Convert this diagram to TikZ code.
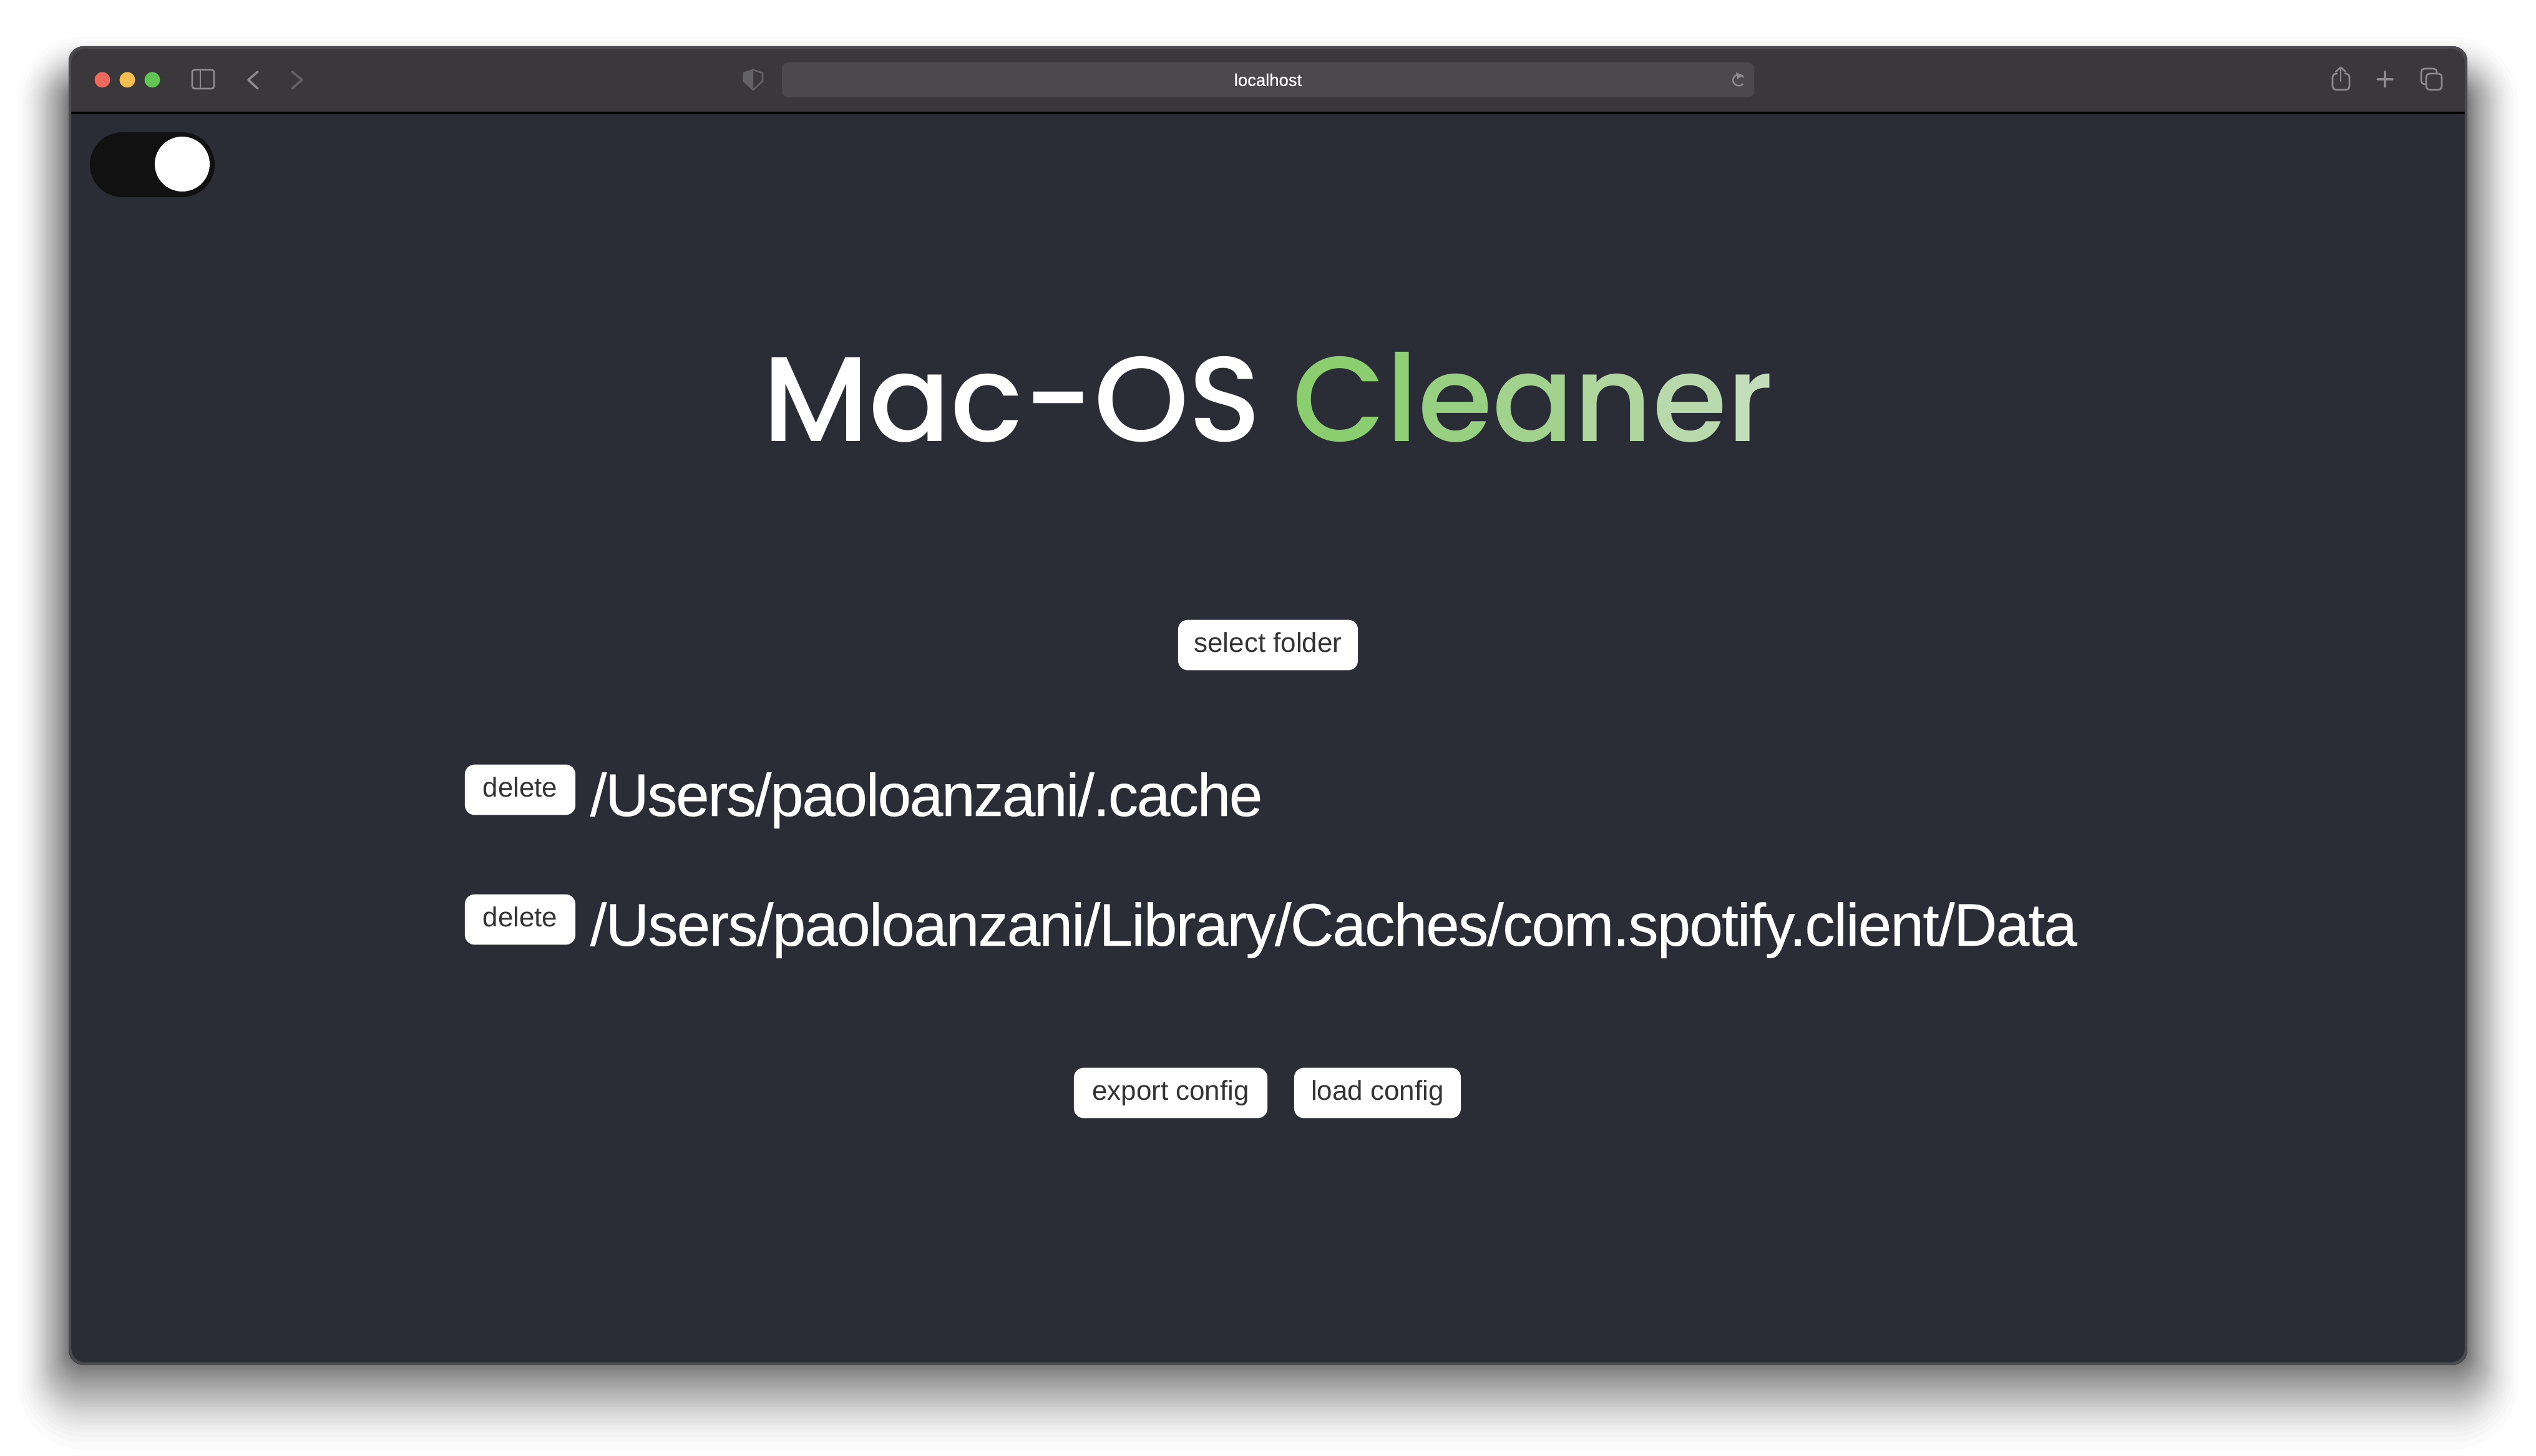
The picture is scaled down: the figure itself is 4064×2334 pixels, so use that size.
\documentclass[tikz,border=0pt]{standalone}
\usepackage{fontspec}
\setmainfont{Liberation Sans}
\newfontfamily\titlefont{Poppins Medium}
\usetikzlibrary{positioning}
\definecolor{pagebg}{HTML}{2B2D36}
\definecolor{barbg}{HTML}{3A383B}
\definecolor{urlbg}{HTML}{4B494C}
\definecolor{rimcol}{HTML}{4C4C50}
\definecolor{iconcol}{HTML}{8C8B8D}
\definecolor{icondim}{HTML}{636265}
\definecolor{btntext}{HTML}{333333}
\definecolor{knobtrack}{HTML}{111111}
\definecolor{clA}{HTML}{8BCE6F}
\definecolor{clB}{HTML}{90CF76}
\definecolor{clC}{HTML}{98D081}
\definecolor{clD}{HTML}{A2D38E}
\definecolor{clE}{HTML}{AED69D}
\definecolor{clF}{HTML}{B8D9AB}
\definecolor{clG}{HTML}{C4DDBB}
\tikzset{
  btn/.style={fill=white,text=btntext,rounded corners=4.5pt,inner sep=0pt,
    minimum height=23pt,text height=6.26pt,text depth=0pt,
    font=\fontsize{12.5}{14}\selectfont},
  pathtext/.style={text=white,inner sep=0pt,anchor=base west,
    font=\addfontfeature{LetterSpace=#1,FakeBold=0.2}\fontsize{27.4}{32}\selectfont},
  icon/.style={draw=iconcol,line width=.75pt,line cap=round,line join=round},
}
\begin{document}
\begin{tikzpicture}[x=0.01cm,y=-0.01cm]
      \useasboundingbox (0,0) rectangle (4064,2334);
      \fill[white] (0,0) rectangle (4064,2334);

      \foreach \i in {1,...,40} {
        \pgfmathsetmacro{\d}{100*(1-(\i/40)^(.4545))}
        \fill[black,opacity=.015,rounded corners=7pt+\d*0.2845pt]
          (110-\d,140-\d) rectangle (3954+\d,2188+1.67*\d);
      }

      \begin{scope}
        \clip[rounded corners=6.8pt] (110,74) rectangle (3954,2188);
        \fill[pagebg] (110,74) rectangle (3954,2188);
        \fill[barbg] (110,74) rectangle (3954,181);
        \fill[black] (110,179) rectangle (3954,183);
      \end{scope}
      \draw[rimcol,line width=1.2pt,rounded corners=6.8pt] (112,76) rectangle (3952,2186);

      \foreach \x/\c in {164/EC6A5E,204/F4BF4F,244/61C554} {
        \definecolor{lightcol}{HTML}{\c}
        \fill[lightcol] (\x,128) circle (12.5);
      }

      \draw[icon,rounded corners=1pt] (308,112) rectangle (343,142);
      \draw[icon] (321,112) -- (321,142);
      \draw[icon,line width=1pt] (413,115) -- (398,128) -- (413,142);
      \draw[draw=icondim,line width=1pt,line cap=round,line join=round] (468,115) -- (484,128) -- (468,142);

      \draw[draw=icondim,line width=.75pt] (1192,117) -- (1207,112) -- (1222,117) -- (1222,130) -- (1207,144) -- (1192,130) -- cycle;
      \fill[icondim] (1192,117) -- (1207,112) -- (1207,144) -- (1192,130) -- cycle;
      \fill[urlbg,rounded corners=3pt] (1253,100) rectangle (2811,156);
      \node[text=white,inner sep=0pt,font=\addfontfeature{FakeBold=0.5}\fontsize{7.8}{9}\selectfont] (urlbar) at (2032,128) {localhost};
      \draw[draw=iconcol,line width=.7pt] (2794,124) arc (-30:-320:9);
      \fill[iconcol] (2782,116) -- (2793,121) -- (2784,127) -- cycle;

      \draw[icon,rounded corners=1.5pt] (3745,118) -- (3738,118) -- (3738,144) -- (3765,144) -- (3765,118) -- (3758,118);
      \draw[icon] (3751,130) -- (3751,108);
      \draw[icon] (3743,115) -- (3751,108) -- (3759,115);
      \draw[icon,line width=.9pt] (3810,127) -- (3834,127);
      \draw[icon,line width=.9pt] (3822,115) -- (3822,139);
      \draw[icon,rounded corners=1.5pt] (3888,135) -- (3880,135) -- (3880,110) -- (3905,110) -- (3905,118);
      \draw[icon,rounded corners=1.5pt] (3888,118) rectangle (3913,144);

      \fill[knobtrack,rounded corners=14.8pt] (144,212) rectangle (344,316);
      \fill[white] (292,263) circle (44);

      \node[inner sep=0pt,anchor=base,text=white,font=\titlefont\fontsize{55}{60}\selectfont] (title) at (2032,708)
        {Mac-OS \textcolor{clA}{C}\textcolor{clB}{l}\textcolor{clC}{e}\textcolor{clD}{a}\textcolor{clE}{n}\textcolor{clF}{e}\textcolor{clG}{r}};

      \node[btn,minimum width=82pt] (selectbtn) at (2032,1034) {select folder};

      \node[btn,minimum width=50.4pt] (deleteA) at (833.5,1266) {delete};
      \node[pathtext=-2.5] (pathA) at (945,1308) {/Users/paoloanzani/.cache};

      \node[btn,minimum width=50.4pt] (deleteB) at (833.5,1474) {delete};
      \node[pathtext=-1.95] (pathB) at (945,1516) {/Users/paoloanzani/Library/Caches/com.spotify.client/Data};

      \node[btn,minimum width=88.2pt] (exportbtn) at (1876,1752) {export config};
      \node[btn,minimum width=76pt] (loadbtn) at (2207.5,1752) {load config};
    \end{tikzpicture}
\end{document}
